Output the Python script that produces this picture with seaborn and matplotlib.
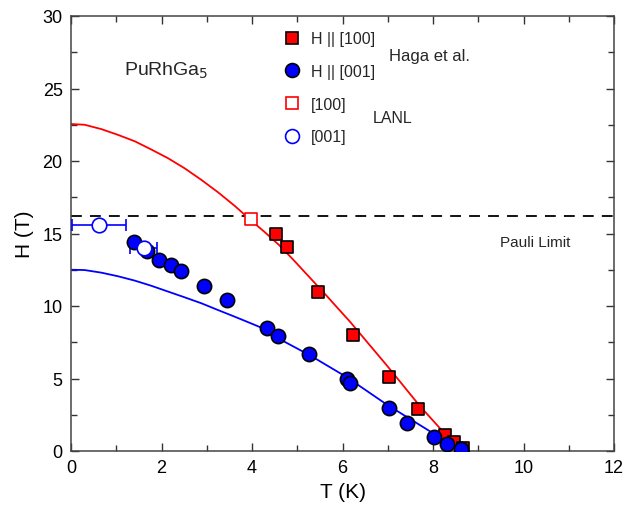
import numpy as np
import pandas as pd
import matplotlib
matplotlib.use("Agg")
import matplotlib.pyplot as plt
import seaborn as sns
from matplotlib.ticker import MultipleLocator
from matplotlib.lines import Line2D

# ---- data ----
haga100_T = [4.53, 4.77, 5.46, 6.23, 7.03, 7.67, 8.27, 8.46, 8.66]
haga100_H = [15.0, 14.1, 11.0, 8.0, 5.1, 2.9, 1.1, 0.6, 0.2]

haga001_T = [1.39, 1.68, 1.94, 2.21, 2.43, 2.94, 3.45, 4.33, 4.57, 5.26,
             6.10, 6.17, 7.03, 7.43, 8.02, 8.31, 8.62]
haga001_H = [14.4, 13.8, 13.2, 12.8, 12.4, 11.4, 10.4, 8.5, 7.9, 6.7,
             5.0, 4.7, 3.0, 1.9, 0.97, 0.48, 0.14]

lanl100_T = [3.98]
lanl100_H = [16.0]

lanl001_T = [0.62, 1.61]
lanl001_H = [15.6, 14.0]
lanl001_Terr = [0.60, 0.30]

fit100_T = [0.0, 0.30, 0.67, 1.04, 1.41, 1.77, 2.14, 2.51, 2.88, 3.25, 3.62, 3.98,
            4.28, 4.60, 4.91, 5.65, 6.17, 6.98, 7.71, 8.30, 8.67]
fit100_H = [22.55, 22.5, 22.2, 21.8, 21.36, 20.8, 20.2, 19.5, 18.7, 17.84, 16.9, 15.9,
            15.1, 14.2, 13.2, 10.7, 8.9, 5.9, 3.1, 1.06, 0.0]

fit001_T = [0.0, 0.30, 0.67, 1.04, 1.41, 1.77, 2.14, 2.51, 2.88, 3.25, 3.62, 3.98,
            4.28, 4.62, 5.28, 6.09, 6.98, 7.86, 8.62]
fit001_H = [12.5, 12.48, 12.3, 12.05, 11.75, 11.4, 11.0, 10.6, 10.19, 9.72, 9.26, 8.8,
            8.41, 7.7, 6.6, 5.1, 3.2, 1.5, 0.0]

pauli_limit = 16.2

legend_labels = ["H || [100]", "H || [001]", "[100]", "[001]"]

# ---- styling ----
sns.set_style("white")
plt.rcParams['font.family'] = ['Liberation Sans', 'DejaVu Sans']

fig = plt.figure(figsize=(6.27, 5.06), dpi=100)
ax = fig.add_axes([71/627, 1-452/506, (614-71)/627, (452-17)/506])

RED = "#ff0000"
BLUE = "#0000ff"

fit100 = pd.DataFrame({"T": fit100_T, "H": fit100_H})
fit001 = pd.DataFrame({"T": fit001_T, "H": fit001_H})
sns.lineplot(data=fit100, x="T", y="H", ax=ax, color=RED, lw=1.3, sort=False, zorder=2)
sns.lineplot(data=fit001, x="T", y="H", ax=ax, color=BLUE, lw=1.3, sort=False, zorder=2)

ax.axhline(pauli_limit, color="black", lw=1.3, ls=(0, (6, 4.5)), zorder=1)

# LANL error bars
ax.errorbar(lanl001_T, lanl001_H, xerr=lanl001_Terr, fmt="none", ecolor=BLUE,
            elinewidth=1.2, capsize=4, capthick=1.2, zorder=3, clip_on=True)

h100 = pd.DataFrame({"T": haga100_T, "H": haga100_H})
h001 = pd.DataFrame({"T": haga001_T, "H": haga001_H})
l100 = pd.DataFrame({"T": lanl100_T, "H": lanl100_H})
l001 = pd.DataFrame({"T": lanl001_T, "H": lanl001_H})

sns.scatterplot(data=h100, x="T", y="H", ax=ax, marker="s", s=85, color=RED,
                edgecolor="black", linewidth=1.2, zorder=4, legend=False)
sns.scatterplot(data=h001, x="T", y="H", ax=ax, marker="o", s=105, color=BLUE,
                edgecolor="black", linewidth=1.2, zorder=4, legend=False)
sns.scatterplot(data=l100, x="T", y="H", ax=ax, marker="s", s=85, color="white",
                edgecolor=RED, linewidth=1.2, zorder=5, legend=False)
sns.scatterplot(data=l001, x="T", y="H", ax=ax, marker="o", s=110, color="white",
                edgecolor=BLUE, linewidth=1.2, zorder=5, legend=False)

ax.set_xlim(0, 12)
ax.set_ylim(0, 30)
ax.xaxis.set_major_locator(MultipleLocator(2))
ax.xaxis.set_minor_locator(MultipleLocator(1))
ax.yaxis.set_major_locator(MultipleLocator(5))
ax.yaxis.set_minor_locator(MultipleLocator(2.5))
ax.tick_params(which="both", direction="in", bottom=True, left=True, top=True, right=True,
               color="#333333")
ax.tick_params(which="major", length=6, width=1, labelsize=13, pad=6, labelcolor="black")
ax.tick_params(which="minor", length=4, width=1)
for sp in ax.spines.values():
    sp.set_color("#444444")
    sp.set_linewidth(1.1)

ax.set_xlabel("T (K)", fontsize=15, labelpad=4, color="black")
ax.set_ylabel("H (T)", fontsize=15, labelpad=6, color="black")

# legend
handles = [
    Line2D([], [], ls="none", marker="s", ms=9, mfc=RED, mec="black", mew=1.2),
    Line2D([], [], ls="none", marker="o", ms=10, mfc=BLUE, mec="black", mew=1.2),
    Line2D([], [], ls="none", marker="s", ms=9, mfc="white", mec=RED, mew=1.2),
    Line2D([], [], ls="none", marker="o", ms=10, mfc="white", mec=BLUE, mew=1.2),
]
leg = ax.legend(handles, legend_labels, loc="upper left",
                bbox_to_anchor=((276-71)/543, 1-(26-17)/435), frameon=False,
                fontsize=11.5, labelspacing=1.1, handletextpad=0.6, handlelength=1.2,
                borderaxespad=0)

def px(x, y):
    return ((x-71)/543, 1-(y-17)/435)

ax.text(*px(124, 71), "PuRhGa$_5$", transform=ax.transAxes, fontsize=14, va="center", ha="left")
ax.text(*px(389, 57), "Haga et al.", transform=ax.transAxes, fontsize=12, va="center", ha="left")
ax.text(*px(373, 119), "LANL", transform=ax.transAxes, fontsize=11.5, va="center", ha="left")
ax.text(*px(500, 243), "Pauli Limit", transform=ax.transAxes, fontsize=11, va="center", ha="left")

fig.savefig("out.png", dpi=100)
